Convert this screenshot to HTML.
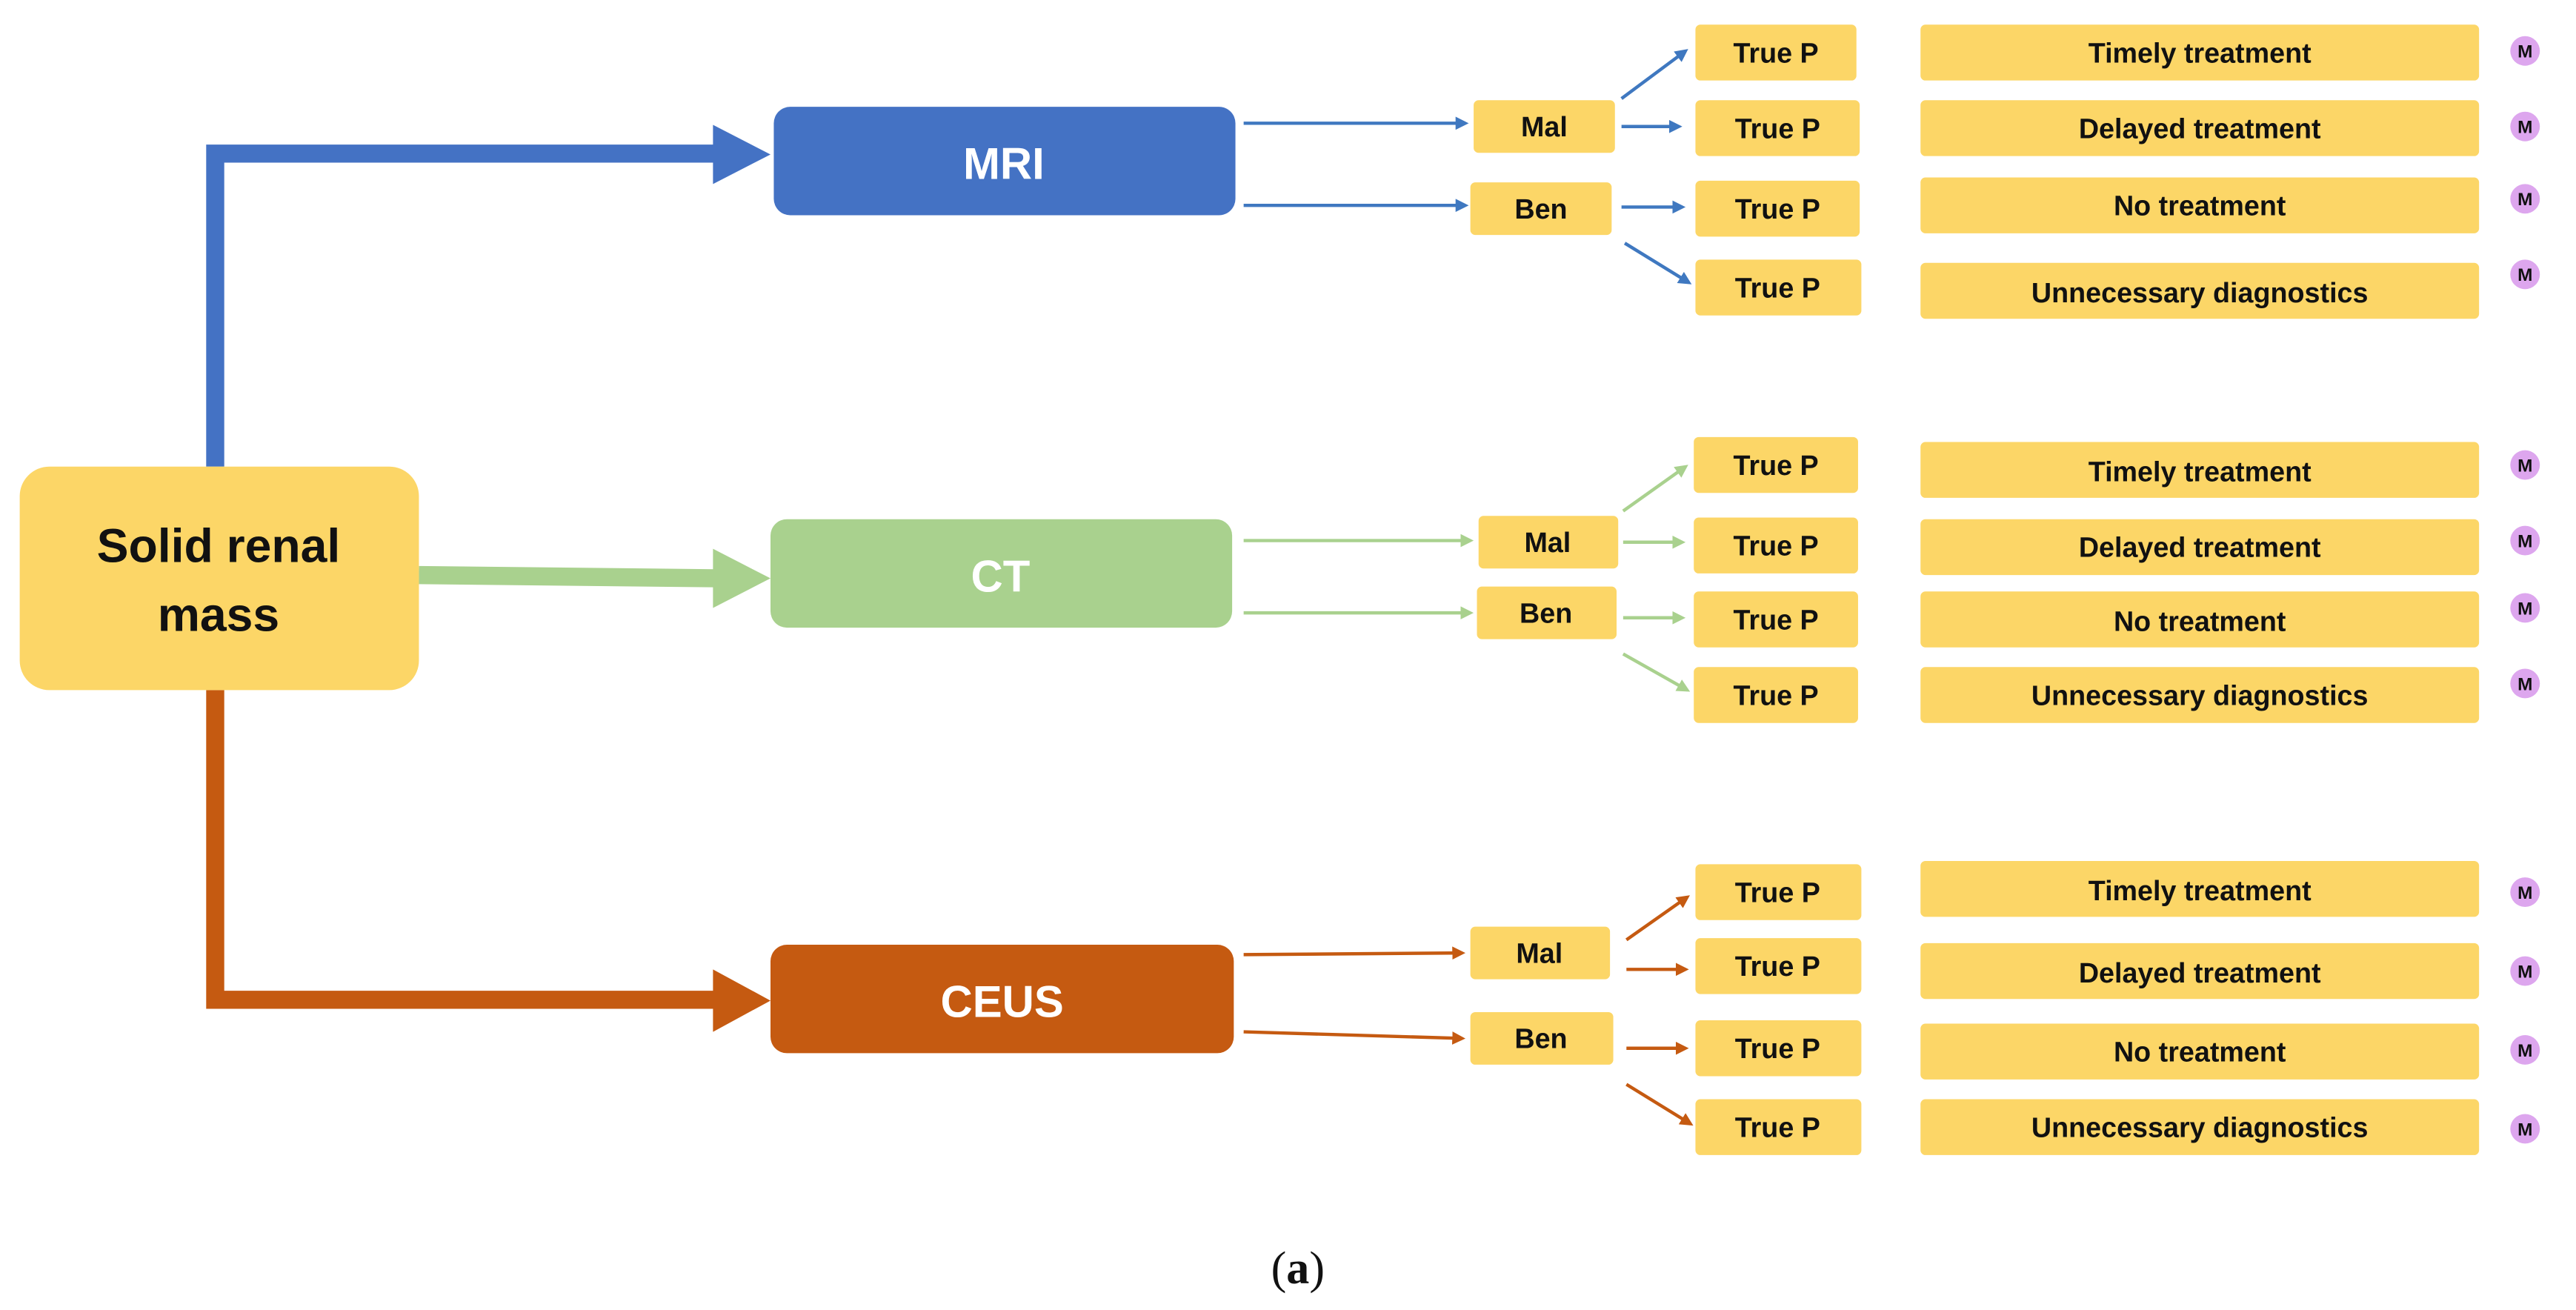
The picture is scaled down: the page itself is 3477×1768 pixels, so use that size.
<!DOCTYPE html>
<html><head><meta charset="utf-8"><style>
html,body{margin:0;padding:0;background:#fff;}
svg{display:block;}
text{font-family:"Liberation Sans",sans-serif;font-weight:bold;}
</style></head><body>
<svg width="3477" height="1768" viewBox="0 0 1568 797.3" xmlns="http://www.w3.org/2000/svg">
<defs>
<marker id="ab" markerWidth="8" markerHeight="8" refX="6" refY="4" orient="auto" markerUnits="userSpaceOnUse"><path d="M0,0 L8,4 L0,8 z" fill="#3F78C0"/></marker>
<marker id="ag" markerWidth="8" markerHeight="8" refX="6" refY="4" orient="auto" markerUnits="userSpaceOnUse"><path d="M0,0 L8,4 L0,8 z" fill="#A9D18E"/></marker>
<marker id="ao" markerWidth="8" markerHeight="8" refX="6" refY="4" orient="auto" markerUnits="userSpaceOnUse"><path d="M0,0 L8,4 L0,8 z" fill="#C55A11"/></marker>
</defs>

<!-- big connectors -->
<path d="M131,284 V93.5 H440" fill="none" stroke="#4472C4" stroke-width="11"/>
<path d="M434,76 L469,94 L434,112 z" fill="#4472C4"/>
<path d="M255,350 L440,352" fill="none" stroke="#A9D18E" stroke-width="11"/>
<path d="M434,334 L469,352 L434,370 z" fill="#A9D18E"/>
<path d="M131,420 V608.5 H440" fill="none" stroke="#C55A11" stroke-width="11"/>
<path d="M434,590 L469,609 L434,628 z" fill="#C55A11"/>

<!-- main boxes -->
<rect x="12" y="284" width="243" height="136" rx="18" fill="#FCD667"/>
<text x="133" y="342" font-size="29" text-anchor="middle" fill="#111">Solid renal</text>
<text x="133" y="384" font-size="29" text-anchor="middle" fill="#111">mass</text>
<rect x="471" y="65" width="281" height="66" rx="10" fill="#4472C4"/>
<text x="611" y="109" font-size="27" text-anchor="middle" fill="#fff">MRI</text>
<rect x="469" y="316" width="281" height="66" rx="10" fill="#A9D18E"/>
<text x="609" y="360" font-size="27" text-anchor="middle" fill="#fff">CT</text>
<rect x="469" y="575" width="282" height="66" rx="10" fill="#C55A11"/>
<text x="610" y="619" font-size="27" text-anchor="middle" fill="#fff">CEUS</text>

<g font-size="17" fill="#111" text-anchor="middle">
<!-- MRI group -->
<line x1="757" y1="75" x2="892" y2="75" stroke="#3F78C0" stroke-width="2" marker-end="url(#ab)"/>
<line x1="757" y1="125" x2="892" y2="125" stroke="#3F78C0" stroke-width="2" marker-end="url(#ab)"/>
<rect x="897" y="61" width="86" height="32" rx="3" fill="#FCD667"/><text x="940" y="83">Mal</text>
<rect x="895" y="111" width="86" height="32" rx="3" fill="#FCD667"/><text x="938" y="133">Ben</text>
<line x1="987" y1="60" x2="1026" y2="31" stroke="#3F78C0" stroke-width="2" marker-end="url(#ab)"/>
<line x1="987" y1="77" x2="1022" y2="77" stroke="#3F78C0" stroke-width="2" marker-end="url(#ab)"/>
<line x1="987" y1="126" x2="1024" y2="126" stroke="#3F78C0" stroke-width="2" marker-end="url(#ab)"/>
<line x1="989" y1="148" x2="1028" y2="172" stroke="#3F78C0" stroke-width="2" marker-end="url(#ab)"/>

<!-- CT group -->
<line x1="757" y1="329" x2="895" y2="329" stroke="#A9D18E" stroke-width="2" marker-end="url(#ag)"/>
<line x1="757" y1="373" x2="895" y2="373" stroke="#A9D18E" stroke-width="2" marker-end="url(#ag)"/>
<rect x="900" y="314" width="85" height="32" rx="3" fill="#FCD667"/><text x="942" y="336">Mal</text>
<rect x="899" y="357" width="85" height="32" rx="3" fill="#FCD667"/><text x="941" y="379">Ben</text>
<line x1="988" y1="311" x2="1026" y2="284" stroke="#A9D18E" stroke-width="2" marker-end="url(#ag)"/>
<line x1="988" y1="330" x2="1024" y2="330" stroke="#A9D18E" stroke-width="2" marker-end="url(#ag)"/>
<line x1="988" y1="376" x2="1024" y2="376" stroke="#A9D18E" stroke-width="2" marker-end="url(#ag)"/>
<line x1="988" y1="398" x2="1027" y2="420" stroke="#A9D18E" stroke-width="2" marker-end="url(#ag)"/>

<!-- CEUS group -->
<line x1="757" y1="581" x2="890" y2="580" stroke="#C55A11" stroke-width="2" marker-end="url(#ao)"/>
<line x1="757" y1="628" x2="890" y2="632" stroke="#C55A11" stroke-width="2" marker-end="url(#ao)"/>
<rect x="895" y="564" width="85" height="32" rx="3" fill="#FCD667"/><text x="937" y="586">Mal</text>
<rect x="895" y="616" width="87" height="32" rx="3" fill="#FCD667"/><text x="938" y="638">Ben</text>
<line x1="990" y1="572" x2="1027" y2="546" stroke="#C55A11" stroke-width="2" marker-end="url(#ao)"/>
<line x1="990" y1="590" x2="1026" y2="590" stroke="#C55A11" stroke-width="2" marker-end="url(#ao)"/>
<line x1="990" y1="638" x2="1026" y2="638" stroke="#C55A11" stroke-width="2" marker-end="url(#ao)"/>
<line x1="990" y1="660" x2="1029" y2="684" stroke="#C55A11" stroke-width="2" marker-end="url(#ao)"/>

<!-- True P boxes -->
<g>
<rect x="1032" y="15" width="98" height="34" rx="3" fill="#FCD667"/><text x="1081" y="38">True P</text>
<rect x="1032" y="61" width="100" height="34" rx="3" fill="#FCD667"/><text x="1082" y="84">True P</text>
<rect x="1032" y="110" width="100" height="34" rx="3" fill="#FCD667"/><text x="1082" y="133">True P</text>
<rect x="1032" y="158" width="101" height="34" rx="3" fill="#FCD667"/><text x="1082" y="181">True P</text>

<rect x="1031" y="266" width="100" height="34" rx="3" fill="#FCD667"/><text x="1081" y="289">True P</text>
<rect x="1031" y="315" width="100" height="34" rx="3" fill="#FCD667"/><text x="1081" y="338">True P</text>
<rect x="1031" y="360" width="100" height="34" rx="3" fill="#FCD667"/><text x="1081" y="383">True P</text>
<rect x="1031" y="406" width="100" height="34" rx="3" fill="#FCD667"/><text x="1081" y="429">True P</text>

<rect x="1032" y="526" width="101" height="34" rx="3" fill="#FCD667"/><text x="1082" y="549">True P</text>
<rect x="1032" y="571" width="101" height="34" rx="3" fill="#FCD667"/><text x="1082" y="594">True P</text>
<rect x="1032" y="621" width="101" height="34" rx="3" fill="#FCD667"/><text x="1082" y="644">True P</text>
<rect x="1032" y="669" width="101" height="34" rx="3" fill="#FCD667"/><text x="1082" y="692">True P</text>
</g>

<!-- outcomes -->
<g>
<rect x="1169" y="15" width="340" height="34" rx="3" fill="#FCD667"/><text x="1339" y="38">Timely treatment</text>
<rect x="1169" y="61" width="340" height="34" rx="3" fill="#FCD667"/><text x="1339" y="84">Delayed treatment</text>
<rect x="1169" y="108" width="340" height="34" rx="3" fill="#FCD667"/><text x="1339" y="131">No treatment</text>
<rect x="1169" y="160" width="340" height="34" rx="3" fill="#FCD667"/><text x="1339" y="184">Unnecessary diagnostics</text>

<rect x="1169" y="269" width="340" height="34" rx="3" fill="#FCD667"/><text x="1339" y="293">Timely treatment</text>
<rect x="1169" y="316" width="340" height="34" rx="3" fill="#FCD667"/><text x="1339" y="339">Delayed treatment</text>
<rect x="1169" y="360" width="340" height="34" rx="3" fill="#FCD667"/><text x="1339" y="384">No treatment</text>
<rect x="1169" y="406" width="340" height="34" rx="3" fill="#FCD667"/><text x="1339" y="429">Unnecessary diagnostics</text>

<rect x="1169" y="524" width="340" height="34" rx="3" fill="#FCD667"/><text x="1339" y="548">Timely treatment</text>
<rect x="1169" y="574" width="340" height="34" rx="3" fill="#FCD667"/><text x="1339" y="598">Delayed treatment</text>
<rect x="1169" y="623" width="340" height="34" rx="3" fill="#FCD667"/><text x="1339" y="646">No treatment</text>
<rect x="1169" y="669" width="340" height="34" rx="3" fill="#FCD667"/><text x="1339" y="692">Unnecessary diagnostics</text>
</g>

<!-- M circles -->
<g font-size="11">
<circle cx="1537" cy="31" r="9" fill="#DDA6EE"/><text x="1537" y="35">M</text>
<circle cx="1537" cy="77" r="9" fill="#DDA6EE"/><text x="1537" y="81">M</text>
<circle cx="1537" cy="121" r="9" fill="#DDA6EE"/><text x="1537" y="125">M</text>
<circle cx="1537" cy="167" r="9" fill="#DDA6EE"/><text x="1537" y="171">M</text>
<circle cx="1537" cy="283" r="9" fill="#DDA6EE"/><text x="1537" y="287">M</text>
<circle cx="1537" cy="329" r="9" fill="#DDA6EE"/><text x="1537" y="333">M</text>
<circle cx="1537" cy="370" r="9" fill="#DDA6EE"/><text x="1537" y="374">M</text>
<circle cx="1537" cy="416" r="9" fill="#DDA6EE"/><text x="1537" y="420">M</text>
<circle cx="1537" cy="543" r="9" fill="#DDA6EE"/><text x="1537" y="547">M</text>
<circle cx="1537" cy="591" r="9" fill="#DDA6EE"/><text x="1537" y="595">M</text>
<circle cx="1537" cy="639" r="9" fill="#DDA6EE"/><text x="1537" y="643">M</text>
<circle cx="1537" cy="687" r="9" fill="#DDA6EE"/><text x="1537" y="691">M</text>
</g>
</g>

<text x="790" y="781" font-size="28" text-anchor="middle" style="font-family:'Liberation Serif',serif;font-weight:normal" fill="#111">(<tspan font-weight="bold">a</tspan>)</text>
</svg>
</body></html>
